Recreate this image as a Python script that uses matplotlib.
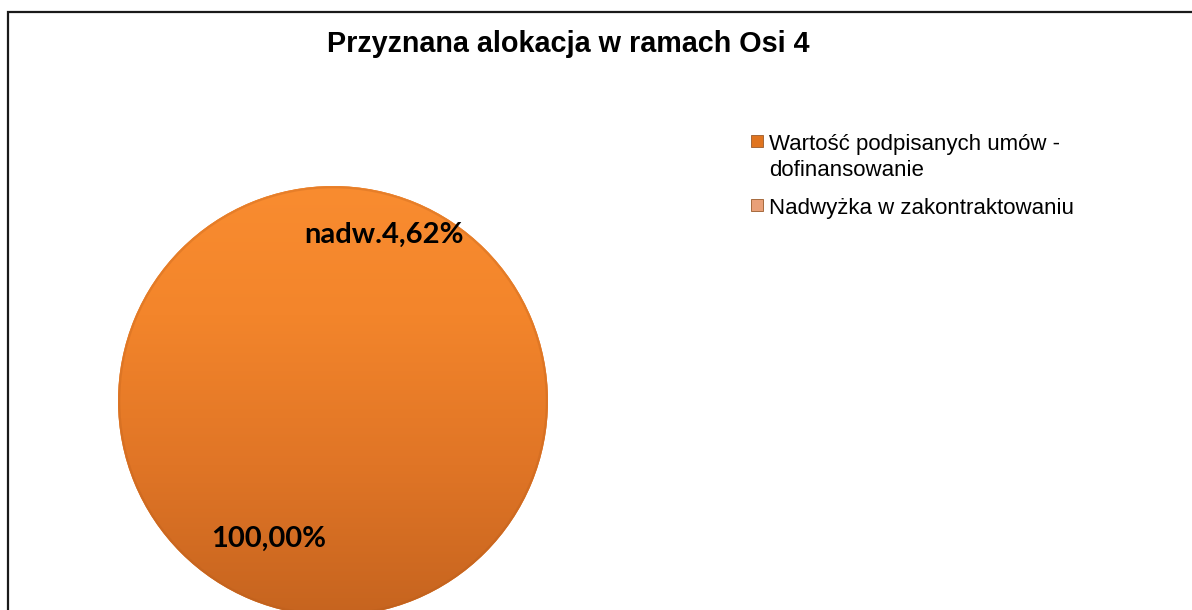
import numpy as np
import matplotlib.pyplot as plt
from matplotlib.colors import LinearSegmentedColormap
from matplotlib.patches import Rectangle

# data
title = "Przyznana alokacja w ramach Osi 4"
categories = ["Wartość podpisanych umów -\ndofinansowanie", "Nadwyżka w zakontraktowaniu"]
pie_values = [100.0, 0.0]          # the surplus slice is not drawn in the picture
label_texts = ["100,00%", "nadw.4,62%"]
slice_colors = ["#E0741F", "#E9A078"]

W, H = 1192, 610
fig = plt.figure(figsize=(W / 100, H / 100), dpi=100)
fig.patch.set_facecolor("white")

# outer chart border (runs off to the right and bottom)
fig.patches.append(Rectangle((8 / W, -0.1), 1.2, 1 - 12 / H + 0.1, transform=fig.transFigure,
                             fill=False, edgecolor="#1a1a1a", linewidth=1.6))

fig.text(568 / W, 1 - 52 / H, title, ha="center", va="baseline",
         fontsize=20.7, fontweight="bold", family="Liberation Sans")

# pie axes: centre (333, 401) px, radius 215 px
r = 215
cx, cy = 333, H - 401
ax = fig.add_axes([(cx - r) / W, (cy - r) / H, 2 * r / W, 2 * r / H])
ax.set_axis_off()

wedges, _ = ax.pie(pie_values, colors=slice_colors, radius=1, startangle=90,
                   counterclock=False, wedgeprops=dict(linewidth=0))

# top-to-bottom shading like the original bevel effect
grad = LinearSegmentedColormap.from_list(
    "shade", [(0, "#C6641F"), (0.35, "#E07526"), (0.7, "#F3852B"), (1, "#F98C30")])
g = np.linspace(0, 1, 256).reshape(-1, 1)
im = ax.imshow(g, cmap=grad, extent=[-1, 1, -1, 1], origin="lower", aspect="auto", zorder=2)
im.set_clip_path(wedges[0])
ax.add_patch(plt.Circle((0, 0), 0.994, fill=False, edgecolor="#B35B1B", linewidth=1.5,
                        alpha=0.25, zorder=3))
ax.set_xlim(-1, 1)
ax.set_ylim(-1, 1)

label_pos = [(-0.30, -0.64), (0.237, 0.772)]
for txt, (x, y) in zip(label_texts, label_pos):
    ax.text(x, y, txt, ha="center", va="center", fontsize=21, fontweight="bold",
            family="Lato", color="black", zorder=4)

# legend drawn by hand so the marker sits on the first text line
entry_top = [135, 199]      # px from top of figure
line_gap = 26
for name, color, top in zip(categories, slice_colors, entry_top):
    fig.patches.append(Rectangle((751 / W, 1 - (top + 12) / H), 12 / W, 12 / H,
                                 transform=fig.transFigure, facecolor=color,
                                 edgecolor="#9a5a2a", linewidth=0.6))
    for i, line in enumerate(name.split("\n")):
        fig.text(769 / W, 1 - (top + 15 + i * line_gap) / H, line, ha="left", va="baseline",
                 fontsize=16, family="Liberation Sans", color="black")

fig.savefig("out.png", dpi=100)
